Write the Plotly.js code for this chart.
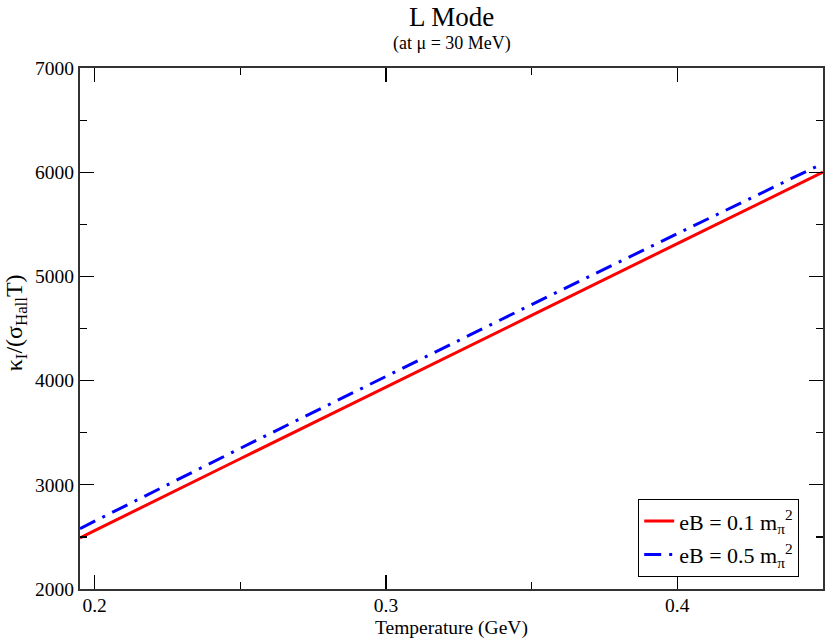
<!DOCTYPE html>
<html>
<head>
<meta charset="utf-8">
<script src="https://cdn.plot.ly/plotly-3.0.1.min.js"></script>
<style>html,body{margin:0;padding:0;background:#fff;}#chart{width:828px;height:639px;}</style>
</head>
<body>
<div id="chart"></div>
<script>
const temperature = [0.195, 0.2, 0.25, 0.3, 0.35, 0.4, 0.45];
const kappaEB01 = [2490, 2560, 3250, 3935, 4625, 5315, 6000];
const kappaEB05 = [2580, 2650, 3350, 4040, 4730, 5410, 6085];
const seriesNames = ["eB = 0.1 m<sub>π</sub><sup>2</sup>", "eB = 0.5 m<sub>π</sub><sup>2</sup>"];
const xTicks = [0.2, 0.3, 0.4];
const yTicks = [2000, 3000, 4000, 5000, 6000, 7000];

const serif = "Liberation Serif";

const traces = [
  {x: temperature, y: kappaEB01, name: seriesNames[0], mode: "lines", legendgroup: "a",
   line: {color: "#ff0000", width: 3}},
  {x: temperature, y: kappaEB05, name: seriesNames[1], mode: "lines", legendgroup: "b",
   line: {color: "#0000ff", width: 3, dash: "17px,8px,3px,8px"}}
];

const axisCommon = {
  showgrid: false, zeroline: false, showline: true, linecolor: "#333", linewidth: 2,
  mirror: "allticks", ticks: "inside", ticklen: 14, tickwidth: 1.2, tickcolor: "#000",
  tickfont: {family: serif, size: 19.5, color: "#000"}
};

const layout = {
  width: 828, height: 639,
  margin: {l: 80, r: 5, t: 68, b: 50},
  paper_bgcolor: "#fff", plot_bgcolor: "#fff",
  showlegend: true,
  legend: {x: 0.751, y: 0.023, xanchor: "left", yanchor: "bottom",
    bordercolor: "#000", borderwidth: 1.2, bgcolor: "#fff",
    font: {family: serif, size: 22, color: "#000"}, tracegroupgap: 2},
  xaxis: Object.assign({}, axisCommon, {
    range: [0.195, 0.45], tickvals: xTicks, ticktext: xTicks.map(v => v.toFixed(1)),
    ticklabelstandoff: -2,
    minor: {dtick: 0.05, tick0: 0.2, ticks: "inside", ticklen: 7, tickwidth: 1.2, tickcolor: "#000"}
  }),
  yaxis: Object.assign({}, axisCommon, {
    range: [2000, 7000], tickvals: yTicks, ticktext: yTicks.map(String),
    minor: {dtick: 500, tick0: 2000, ticks: "inside", ticklen: 7, tickwidth: 1.2, tickcolor: "#000"}
  }),
  annotations: [
    {text: "L Mode", xref: "paper", yref: "paper", x: 0.5, y: 1, yshift: 51,
     showarrow: false, font: {family: serif, size: 27, color: "#000"}, yanchor: "middle"},
    {text: "(at μ = 30 MeV)", xref: "paper", yref: "paper", x: 0.5, y: 1, yshift: 25,
     showarrow: false, font: {family: serif, size: 18, color: "#000"}, yanchor: "middle"},
    {text: "Temperature (GeV)", xref: "paper", yref: "paper", x: 0.5, y: 0, yshift: -39,
     showarrow: false, font: {family: serif, size: 19.5, color: "#000"}, yanchor: "middle"},
    {text: "κ<sub>I</sub>/(σ<sub>Hall</sub>T)", xref: "paper", yref: "paper", x: 0, y: 0.51,
     xshift: -64, textangle: -90, showarrow: false, xanchor: "center", yanchor: "middle",
     font: {family: serif, size: 24, color: "#000"}}
  ]
};

Plotly.newPlot("chart", traces, layout, {displayModeBar: false, staticPlot: true});
</script>
</body>
</html>
